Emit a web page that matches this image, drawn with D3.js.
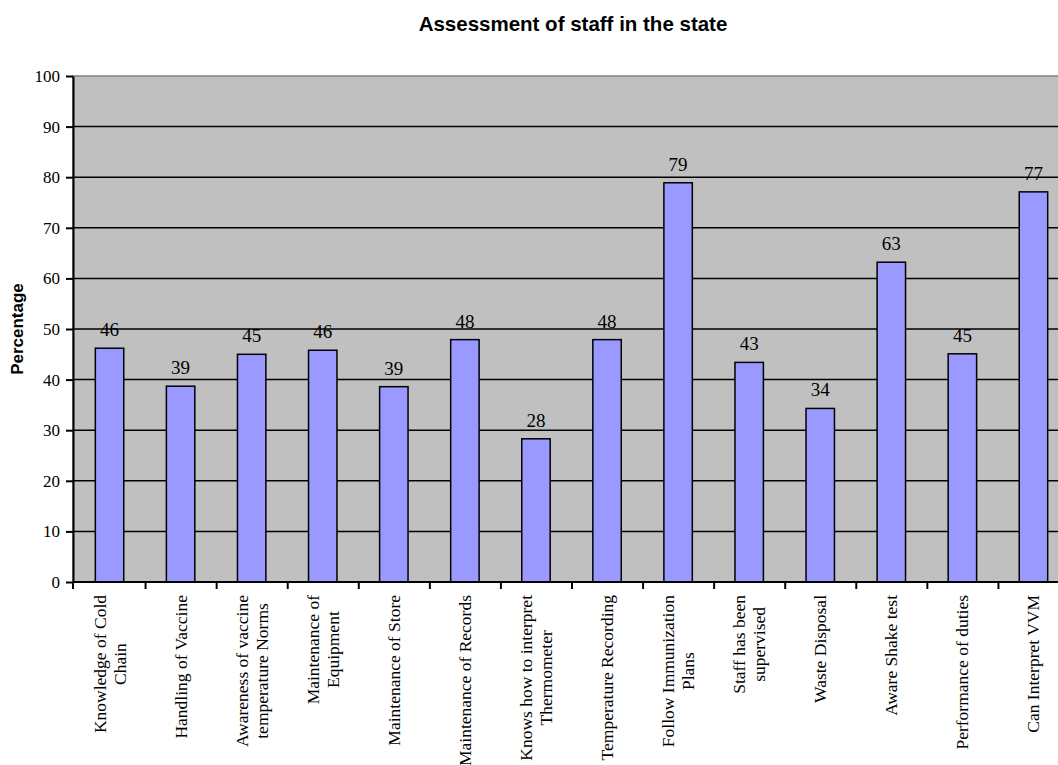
<!DOCTYPE html>
<html>
<head>
<meta charset="utf-8">
<script src="https://cdn.jsdelivr.net/npm/d3@7"></script>
<style>
  html, body { margin: 0; padding: 0; background: #fff; }
  svg { display: block; overflow: hidden; }
</style>
</head>
<body>
<div id="chart"></div>
<script>
const categories = [
  ['Knowledge of Cold', 'Chain'],
  ['Handling of Vaccine'],
  ['Awareness of vaccine', 'temperature Norms'],
  ['Maintenance of', 'Equipment'],
  ['Maintenance of Store'],
  ['Maintenance of Records'],
  ['Knows how to interpret', 'Thermometer'],
  ['Temperature Recording'],
  ['Follow Immunization', 'Plans'],
  ['Staff has been', 'supervised'],
  ['Waste Disposal'],
  ['Aware Shake test'],
  ['Performance of duties'],
  ['Can Interpret VVM']
];
const values = [46.2, 38.7, 45.0, 45.8, 38.6, 47.9, 28.3, 47.9, 78.9, 43.4, 34.3, 63.2, 45.1, 77.1];
const yTicks = [0, 10, 20, 30, 40, 50, 60, 70, 80, 90, 100];

const width = 1058, height = 765;
const plot = { left: 73, top: 76, bottom: 582, right: 1069 };
const serif = '"Liberation Serif", "Times New Roman", serif';
const sans = '"Liberation Sans", Arial, sans-serif';

const svg = d3.select('#chart').append('svg')
  .attr('width', width)
  .attr('height', height);

const keys = categories.map((c, i) => i);
const x = d3.scaleBand().domain(keys).range([plot.left + 1, plot.right]).padding(0);
const y = d3.scaleLinear().domain([0, 100]).range([plot.bottom, plot.top]);

// plot background
svg.append('rect')
  .attr('x', plot.left).attr('y', plot.top)
  .attr('width', plot.right - plot.left).attr('height', plot.bottom - plot.top)
  .attr('fill', '#c0c0c0')
  .attr('stroke', '#808080')
  .attr('stroke-width', 1.5);

// gridlines
svg.append('g')
  .selectAll('line')
  .data(yTicks.filter(t => t > 0 && t < 100))
  .join('line')
  .attr('x1', plot.left).attr('x2', plot.right)
  .attr('y1', d => y(d)).attr('y2', d => y(d))
  .attr('stroke', '#000').attr('stroke-width', 1.5);

// bars
const barW = x.bandwidth() * 0.4;
svg.append('g')
  .selectAll('rect')
  .data(values)
  .join('rect')
  .attr('x', (d, i) => x(i) + (x.bandwidth() - barW) / 2)
  .attr('y', d => y(d))
  .attr('width', barW)
  .attr('height', d => y(0) - y(d))
  .attr('fill', '#9999ff')
  .attr('stroke', '#000')
  .attr('stroke-width', 1.5);

// value labels
svg.append('g')
  .selectAll('text')
  .data(values)
  .join('text')
  .attr('x', (d, i) => x(i) + x.bandwidth() / 2)
  .attr('y', d => y(d) - 12)
  .attr('text-anchor', 'middle')
  .attr('font-family', serif)
  .attr('font-size', 19)
  .attr('fill', '#000')
  .text(d => d3.format('.0f')(d));

// y axis
const yAxis = svg.append('g')
  .attr('transform', `translate(${plot.left},0)`)
  .call(d3.axisLeft(y).tickValues(yTicks).tickSize(7).tickPadding(6).tickSizeOuter(0))
  .attr('font-family', serif)
  .attr('font-size', 17);
yAxis.select('.domain').attr('stroke', '#000').attr('stroke-width', 2);
yAxis.selectAll('.tick line').attr('stroke', '#000').attr('stroke-width', 2);
yAxis.selectAll('.tick text').attr('fill', '#000');

// x axis: ticks at band boundaries
const xBound = d3.scaleLinear().domain([0, categories.length]).range(x.range());
const xAxis = svg.append('g')
  .attr('transform', `translate(0,${plot.bottom})`)
  .call(d3.axisBottom(xBound).tickValues(d3.range(0, categories.length + 1)).tickSize(7).tickFormat('').tickSizeOuter(0));
xAxis.select('.domain').attr('stroke', '#000').attr('stroke-width', 2).attr('d', `M${plot.left},0H${plot.right}`);
xAxis.selectAll('.tick line').attr('stroke', '#000').attr('stroke-width', 2);
xAxis.selectAll('.tick').filter(d => d === 0).attr('transform', `translate(${plot.left},0)`);

// category labels
const lineH = 20;
const labelTop = 595;
const labelG = svg.append('g')
  .attr('font-family', serif)
  .attr('font-size', 17.5)
  .attr('fill', '#000');

categories.forEach((lines, i) => {
  const cx = x(i) + x.bandwidth() / 2;
  const t = labelG.append('text').attr('text-anchor', 'middle');
  lines.forEach(l => t.append('tspan').text(l));
  const maxLen = d3.max(t.selectAll('tspan').nodes(), n => n.getComputedTextLength());
  const cy = labelTop + maxLen / 2;
  const n = lines.length;
  t.attr('transform', `translate(${cx},${cy}) rotate(-90)`);
  t.selectAll('tspan')
    .attr('x', 0)
    .attr('y', (d, j) => (j - (n - 1) / 2) * lineH + 6);
});

// y axis title
svg.append('text')
  .attr('transform', `translate(23,${(plot.top + plot.bottom) / 2}) rotate(-90)`)
  .attr('text-anchor', 'middle')
  .attr('font-family', sans)
  .attr('font-weight', 'bold')
  .attr('font-size', 17)
  .text('Percentage');

// chart title
svg.append('text')
  .attr('x', 573)
  .attr('y', 31)
  .attr('text-anchor', 'middle')
  .attr('font-family', sans)
  .attr('font-weight', 'bold')
  .attr('font-size', 20.5)
  .text('Assessment of staff in the state');
</script>
</body>
</html>
